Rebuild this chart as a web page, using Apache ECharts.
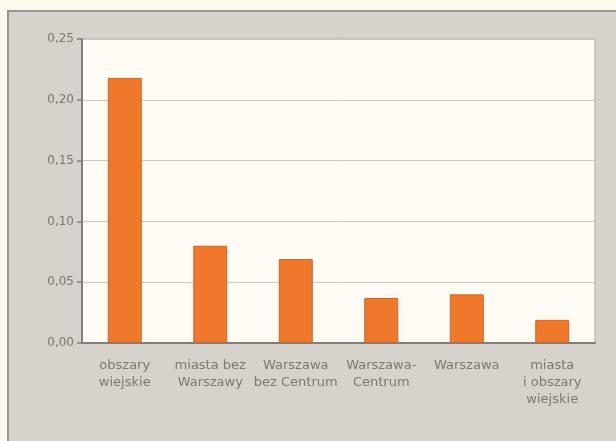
<!DOCTYPE html>
<html>
<head>
<meta charset="utf-8">
<style>
  html, body { margin: 0; padding: 0; background: #fcf9ef; }
  #chart { width: 616px; height: 441px; }
</style>
<script src="https://cdn.jsdelivr.net/npm/echarts@6/dist/echarts.min.js"></script>
</head>
<body>
<div id="chart"></div>
<script>
// Categories (area types) and their values
const categories = [
  'obszary\nwiejskie',
  'miasta bez\nWarszawy',
  'Warszawa\nbez Centrum',
  'Warszawa-\nCentrum',
  'Warszawa',
  'miasta\ni obszary\nwiejskie'
];
const values = [0.218, 0.080, 0.069, 0.037, 0.040, 0.019];
const yTicks = [0, 0.05, 0.10, 0.15, 0.20, 0.25];

const chart = echarts.init(document.getElementById('chart'), null, { renderer: 'canvas' });

const textColor = '#7d7874';
const fontFamily = '"DejaVu Sans", "Liberation Sans", sans-serif';

chart.setOption({
  backgroundColor: '#fcf9ef',
  animation: false,
  graphic: [
    {
      type: 'rect',
      z: -10,
      shape: { x: 8, y: 11, width: 620, height: 440 },
      style: { fill: '#d5d3cb', stroke: '#9c9494', lineWidth: 2 }
    }
  ],
  grid: {
    left: 82, top: 39, width: 513, height: 304,
    show: true,
    backgroundColor: '#fdfbf3',
    borderColor: '#b0aaa6',
    borderWidth: 1
  },
  xAxis: {
    type: 'category',
    data: categories,
    axisLine: { show: true, lineStyle: { color: '#857d7d', width: 2 } },
    axisTick: { show: false },
    axisLabel: {
      color: textColor,
      fontFamily: fontFamily,
      fontSize: 13,
      lineHeight: 17,
      margin: 14,
      interval: 0,
      align: 'center'
    }
  },
  yAxis: {
    type: 'value',
    min: yTicks[0],
    max: yTicks[yTicks.length - 1],
    interval: 0.05,
    axisLine: { show: true, lineStyle: { color: '#857d7d', width: 2 } },
    axisTick: { show: true, length: 5, lineStyle: { color: '#857d7d', width: 1.5 } },
    splitLine: { show: true, lineStyle: { color: '#cbc8c2', width: 1 } },
    axisLabel: {
      color: textColor,
      fontFamily: fontFamily,
      fontSize: 12,
      margin: 8,
      formatter: v => v.toFixed(2).replace('.', ',')
    }
  },
  series: [
    {
      type: 'bar',
      data: values,
      barWidth: 34,
      itemStyle: {
        color: '#f0782a',
        borderColor: '#c8662e',
        borderWidth: 1
      }
    }
  ]
});
</script>
</body>
</html>
